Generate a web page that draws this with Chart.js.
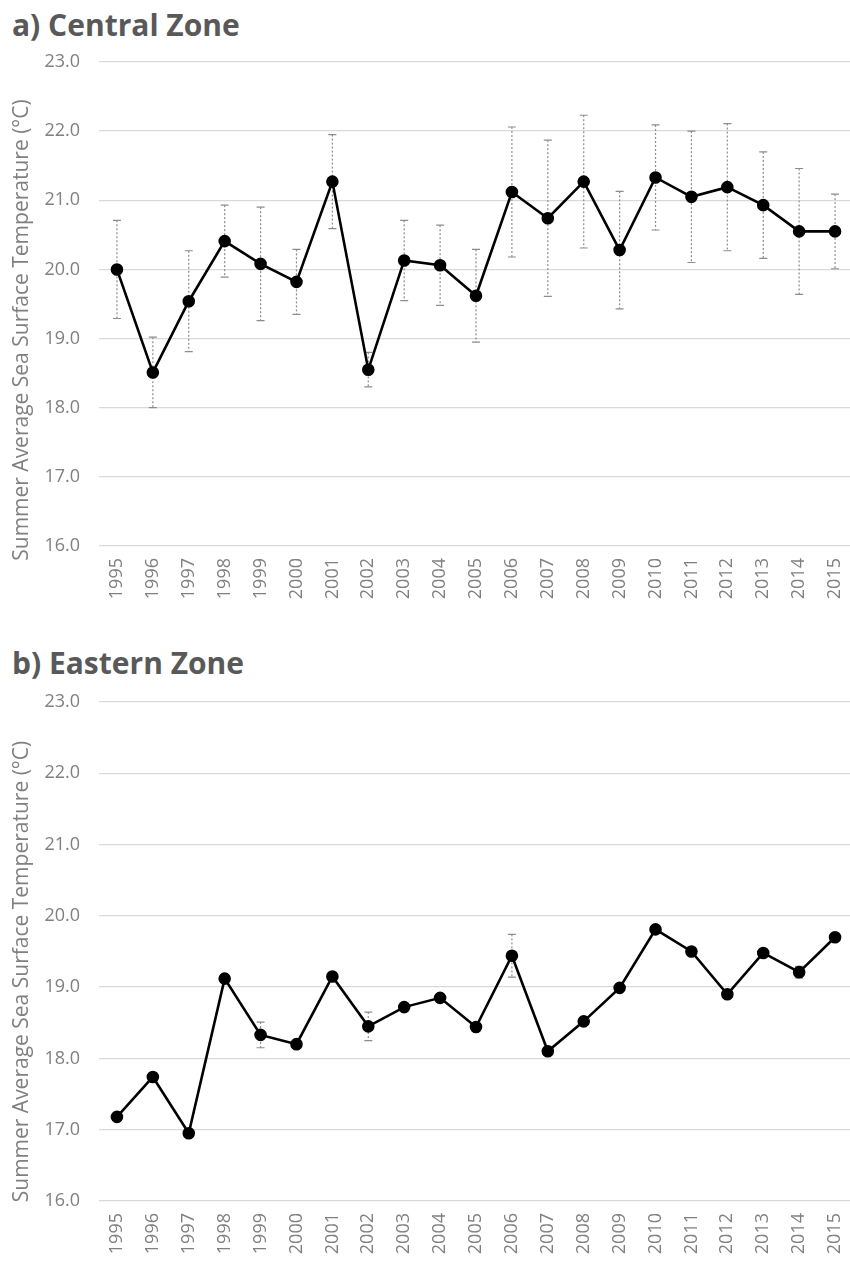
<!DOCTYPE html>
<html>
<head>
<meta charset="utf-8">
<script src="https://cdn.jsdelivr.net/npm/chart.js@4/dist/chart.umd.min.js"></script>
<style>
  html, body { margin: 0; padding: 0; background: #ffffff; }
  body { width: 850px; height: 1269px; position: relative; overflow: hidden; font-family: "Open Sans", sans-serif; }
  .panel-title { position: absolute; left: 12px; font-size: 30px; line-height: 30px; font-weight: 700; color: #595959; white-space: nowrap; }
  .chart-box { position: absolute; left: 0; width: 853px; }
</style>
</head>
<body>
<div class="panel-title" style="top:10px">a) Central Zone</div>
<div class="chart-box" style="top:44px;height:576px"><canvas id="central"></canvas></div>
<div class="panel-title" style="top:648px">b) Eastern Zone</div>
<div class="chart-box" style="top:686px;height:583px"><canvas id="eastern"></canvas></div>
<script>
// Years on the x axis
const years = ['1995','1996','1997','1998','1999','2000','2001','2002','2003','2004','2005',
               '2006','2007','2008','2009','2010','2011','2012','2013','2014','2015'];

// Central Zone: summer mean SST (°C) and its error (±)
const centralSST = [20.00, 18.51, 19.54, 20.41, 20.08, 19.82, 21.27, 18.55, 20.13, 20.06, 19.62,
                    21.12, 20.74, 21.27, 20.28, 21.33, 21.05, 21.19, 20.93, 20.55, 20.55];
const centralErr = [0.71, 0.51, 0.73, 0.52, 0.82, 0.47, 0.68, 0.25, 0.58, 0.58, 0.67,
                    0.94, 1.13, 0.96, 0.85, 0.76, 0.95, 0.92, 0.77, 0.91, 0.54];

// Eastern Zone: summer mean SST (°C) and its error (±)
const easternSST = [17.18, 17.74, 16.95, 19.12, 18.33, 18.20, 19.15, 18.45, 18.72, 18.85, 18.44,
                    19.44, 18.10, 18.52, 18.99, 19.81, 19.50, 18.90, 19.48, 19.21, 19.70];
const easternErr = [0, 0, 0, 0, 0.18, 0, 0, 0.20, 0, 0, 0,
                    0.30, 0, 0, 0, 0, 0, 0, 0, 0.08, 0];

// Temperature axis range and ticks
const yMin = 16, yMax = 23, yStep = 1;
const yTitle = 'Summer Average Sea Surface Temperature (\u00B0C)';

const tickGrey = '#808080';
const gridGrey = '#d9d9d9';

// Dotted error whiskers with caps, drawn behind the line
const errorBars = {
  id: 'errorBars',
  beforeDatasetsDraw(chart, args, opts) {
    const errs = opts.errors || [];
    const meta = chart.getDatasetMeta(0);
    const ys = chart.scales.y;
    const data = chart.data.datasets[0].data;
    const ctx = chart.ctx;
    ctx.save();
    ctx.strokeStyle = '#8c8c8c';
    ctx.lineWidth = 1.2;
    meta.data.forEach((pt, i) => {
      const e = errs[i];
      if (!e) return;
      const x = pt.x;
      const yTop = ys.getPixelForValue(data[i] + e);
      const yBot = ys.getPixelForValue(data[i] - e);
      ctx.setLineDash([2, 2]);
      ctx.beginPath();
      ctx.moveTo(x, yTop);
      ctx.lineTo(x, yBot);
      ctx.stroke();
      ctx.setLineDash([]);
      ctx.beginPath();
      ctx.moveTo(x - 4, yTop); ctx.lineTo(x + 4, yTop);
      ctx.moveTo(x - 4, yBot); ctx.lineTo(x + 4, yBot);
      ctx.stroke();
    });
    ctx.restore();
  }
};

// Rotated y-axis caption, set slightly below the plot centre
const sideTitle = {
  id: 'sideTitle',
  afterDraw(chart, args, opts) {
    const ctx = chart.ctx;
    const a = chart.chartArea;
    ctx.save();
    ctx.translate(opts.x, (a.top + a.bottom) / 2 + opts.shift);
    ctx.rotate(-Math.PI / 2);
    ctx.font = '21px "Open Sans"';
    ctx.fillStyle = tickGrey;
    ctx.textAlign = 'center';
    ctx.textBaseline = 'middle';
    ctx.fillText(opts.text, 0, 0);
    ctx.restore();
  }
};

function makeChart(id, values, errs, padTop, xAxisHeight, shift) {
  return new Chart(document.getElementById(id), {
    type: 'line',
    data: {
      labels: years,
      datasets: [{
        data: values,
        borderColor: '#000000',
        backgroundColor: '#000000',
        borderWidth: 2.6,
        pointRadius: 5,
        pointHoverRadius: 5,
        pointBackgroundColor: '#000000',
        pointBorderColor: '#000000',
        tension: 0,
        fill: false
      }]
    },
    options: {
      responsive: true,
      maintainAspectRatio: false,
      animation: false,
      events: [],
      layout: { autoPadding: false, padding: { top: padTop, left: 0, right: 0, bottom: 0 } },
      plugins: {
        legend: { display: false },
        tooltip: { enabled: false },
        title: { display: false },
        errorBars: { errors: errs },
        sideTitle: { text: yTitle, x: 22, shift: shift }
      },
      scales: {
        x: {
          type: 'category',
          offset: true,
          grid: { display: false, drawTicks: false },
          border: { display: false },
          ticks: {
            autoSkip: false,
            minRotation: 90,
            maxRotation: 90,
            padding: 12,
            color: tickGrey,
            font: { family: '"Open Sans"', size: 18 }
          },
          afterFit(scale) {
            scale.height = xAxisHeight;
            scale.paddingLeft = 0;
            scale.paddingRight = 0;
          }
        },
        y: {
          min: yMin,
          max: yMax,
          grid: { color: gridGrey, lineWidth: 1.3, drawTicks: false },
          border: { display: false },
          ticks: {
            stepSize: yStep,
            padding: 19,
            color: tickGrey,
            font: { family: '"Open Sans"', size: 18 },
            callback: v => Number(v).toFixed(1)
          },
          afterFit(scale) {
            scale.width = 99;
            scale.paddingTop = 0;
            scale.paddingBottom = 0;
          }
        }
      }
    },
    plugins: [errorBars, sideTitle]
  });
}

makeChart('central', centralSST, centralErr, 18, 74, 26);
makeChart('eastern', easternSST, easternErr, 16, 68, 20);
</script>
</body>
</html>
